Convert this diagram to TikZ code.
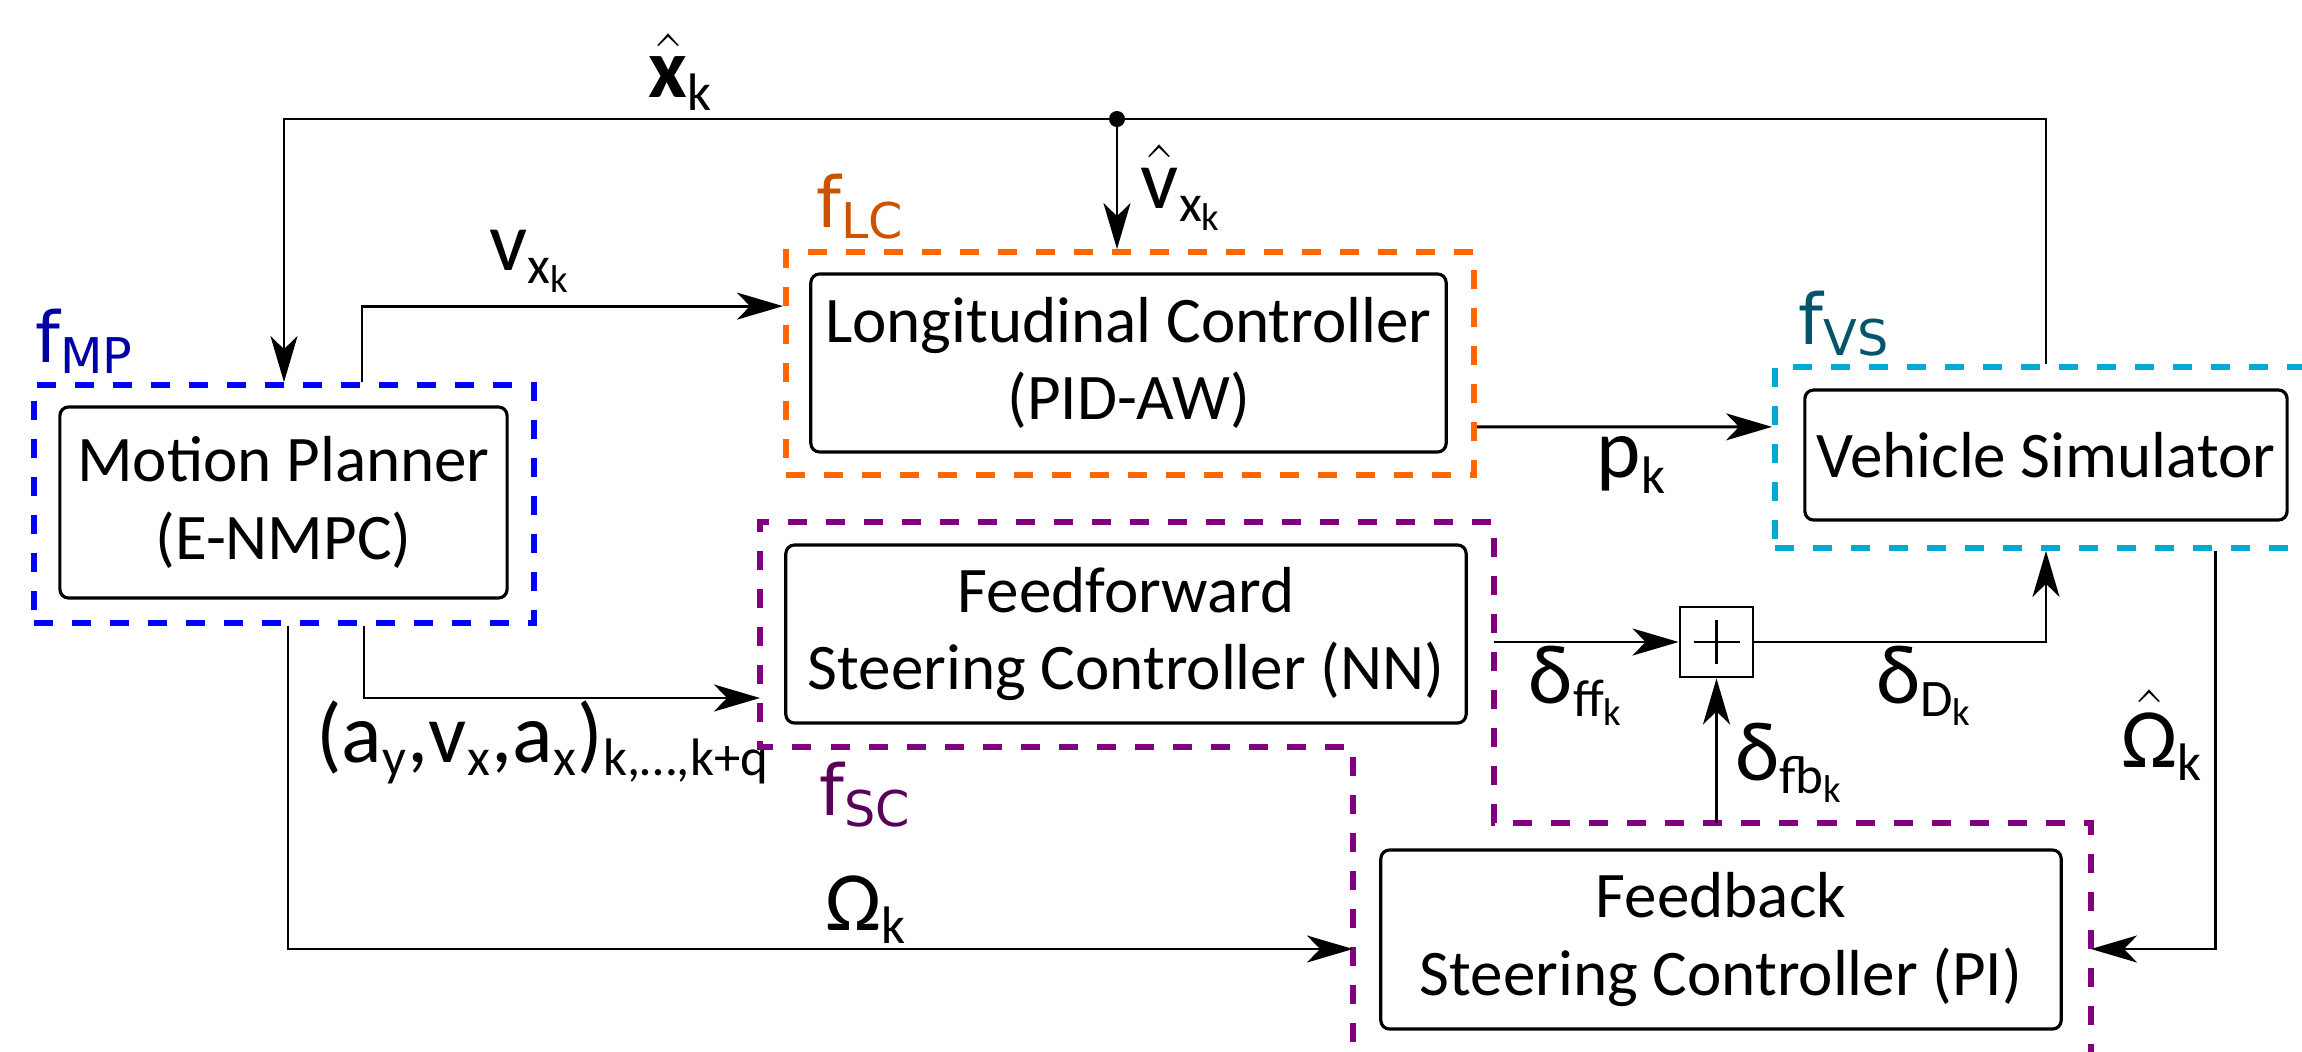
\documentclass[tikz,border=0pt]{standalone}
\usepackage{amsmath}
\usepackage{fontspec}
\setmainfont{Carlito}
\newfontfamily\tagfamily{DejaVu Sans}
\usetikzlibrary{arrows.meta, positioning, calc}
\definecolor{mpblue}{rgb}{0,0,1}
\definecolor{lcorange}{rgb}{1,0.4,0}
\definecolor{vscyan}{rgb}{0,0.667,0.831}
\definecolor{scpurple}{rgb}{0.5,0,0.5}
\DeclareMathSizes{24}{24}{15}{11}
\newcommand{\boxfont}{\fontsize{18.5}{22}\selectfont}
\newcommand{\lblfont}{\fontsize{24}{28}\selectfont}
\newcommand{\tagfont}{\tagfamily\fontsize{20}{24}\selectfont}

\begin{document}
\begin{tikzpicture}[
        x=0.01cm, y=-0.01cm,
        blk/.style={draw, rounded corners=2.5pt, line width=0.9pt, align=center, font=\boxfont, inner sep=2pt},
        grp/.style={draw, dash pattern=on 0.19cm off 0.19cm, line width=1.6pt},
        arr/.style={-{Stealth[length=0.46cm, width=0.27cm, inset=0.13cm]}, line width=0.8pt},
        lbl/.style={font=\lblfont, inner sep=0pt},
        tag/.style={font=\tagfont, inner sep=0pt},
        sumnode/.style={draw, line width=0.8pt, minimum width=0.73cm, minimum height=0.70cm, inner sep=0pt,
            path picture={\draw[line width=0.8pt] ([xshift=-0.23cm]path picture bounding box.center) -- ([xshift=0.23cm]path picture bounding box.center)
                ([yshift=-0.22cm]path picture bounding box.center) -- ([yshift=0.22cm]path picture bounding box.center);}}
    ]
        \useasboundingbox (0,0) rectangle (2302,1051);
        \clip (0,0) rectangle (2302,1051);

        % Motion planner
        \node[grp, draw=mpblue, minimum width=5cm, minimum height=2.38cm] (mpg) at (284,504) {};
        \node[blk, minimum width=4.47cm, minimum height=1.91cm] (mp) at (283.5,502.5) {Motion Planner\\(E-NMPC)};
        \node[tag, text=mpblue!65!black, above right=0.08cm and 0.04cm of mpg.north west] {f$_{\text{MP}}$};

        % Longitudinal controller
        \node[grp, draw=lcorange, minimum width=6.88cm, minimum height=2.23cm] (lcg) at (1130,363.5) {};
        \node[blk, minimum width=6.35cm, minimum height=1.78cm] (lc) at (1128.5,363) {Longitudinal Controller\\(PID-AW)};
        \node[tag, text=lcorange!80!black, above right=0.09cm and 0.33cm of lcg.north west] {f$_{\text{LC}}$};

        % Vehicle simulator
        \node[grp, draw=vscyan, minimum width=5.55cm, minimum height=1.81cm] (vsg) at (2052.5,457.5) {};
        \node[blk, minimum width=4.82cm, minimum height=1.30cm] (vs) at (2046,455) {Vehicle Simulator};
        \node[tag, text=vscyan!50!black, above right=0.07cm and 0.26cm of vsg.north west] {f$_{\text{VS}}$};

        % Steering controllers
        \node[blk, minimum width=6.80cm, minimum height=1.78cm] (ff) at (1126,634) {Feedforward\\Steering Controller (NN)};
        \node[blk, minimum width=6.80cm, minimum height=1.79cm] (fb) at (1721,939.5) {Feedback\\Steering Controller (PI)};
        \coordinate (scnw) at (760,522);
        \coordinate (scne) at (1494,522);
        \coordinate (fbnw) at (1353,747);
        \coordinate (fbne) at (2091,823);
        \draw[grp, draw=scpurple] (fbnw |- 0,1080) -- (fbnw) -- (scnw |- fbnw) -- (scnw) -- (scne) -- (scne |- fbne) -- (fbne) -- (fbne |- 0,1080);
        \node[tag, text=scpurple!70!black, below right=0.14cm and 0.59cm of scnw |- fbnw] {f$_{\text{SC}}$};

        % Sum
        \node[sumnode] (sum) at (1716.5,642) {};

        % State feedback
        \coordinate (split) at (1117,119);
        \draw[arr] (vs.north |- vsg.north) |- (split) -| (mpg.north);
        \draw[arr] (split) -- (split |- lcg.north);
        \fill (split) circle[radius=8];
        \node[lbl] (xk) at (681,72) {$\hat{\textbf{x}}_{\text{k}}$};
        \node[lbl] (vxhat) at (1182,188) {$\hat{\text{v}}_{\text{x}_{\text{k}}}$};

        % Planner outputs
        \draw[arr] ($(mpg.north)+(78,0)$) |- ($(lcg.north west)+(0,57)$) node[lbl, pos=0.7, above=0.12cm] (vx) {$\text{v}_{\text{x}_{\text{k}}}$};
        \draw[arr] ($(mpg.south)+(80,0)$) |- (scnw |- 0,698);
        \node[lbl] (acc) at (543,742) {(a$_{\text{y}}$,v$_{\text{x}}$,a$_{\text{x}}$)$_{\text{k,…,k+q}}$};
        \draw[arr] ($(mpg.south)+(4,0)$) |- (fbnw |- 0,949);
        \node[lbl] (om) at (866,910) {$\text{Ω}_{\text{k}}$};

        % Pedal
        \draw[arr] ($(lcg.south east)+(0,-51)$) -- ($(vsg.south west)+(0,-124)$);
        \node[lbl] (pk) at (1632,465) {$\text{p}_{\text{k}}$};

        % Steering signals
        \draw[arr] (scne |- sum.west) -- (sum.west);
        \draw[arr] (sum.south |- fbne) -- (sum.south);
        \draw[arr] (sum.east) -| (vs.south |- vsg.south);
        \draw[arr] ($(vsg.south -| vs.east)+(-73,0)$) |- (fbne |- 0,949);
        \node[lbl] (dff) at (1577,686) {$\text{δ}_{\text{ff}_{\text{k}}}$};
        \node[lbl] (dd) at (1925,686) {$\text{δ}_{\text{D}_{\text{k}}}$};
        \node[lbl] (dfb) at (1790,763) {$\text{δ}_{\text{fb}_{\text{k}}}$};
        \node[lbl] (omhat) at (2162,735) {$\hat{\text{Ω}}_{\text{k}}$};
    \end{tikzpicture}
\end{document}
